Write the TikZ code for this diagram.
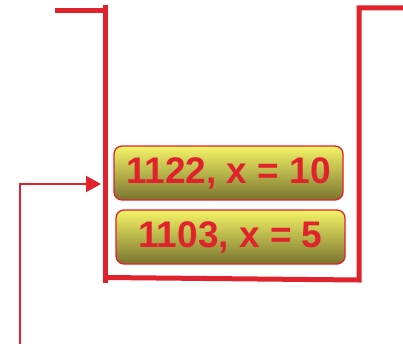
\documentclass[tikz,border=0pt]{standalone}
\usepackage{fontspec}
\setmainfont{Liberation Sans}
\usetikzlibrary{arrows.meta}
\definecolor{cred}{HTML}{E0222C}
\definecolor{ytop}{HTML}{F4F466}
\definecolor{ybot}{HTML}{7A7430}
\tikzset{
  wall/.style={draw=cred, line width=5pt},
  valbox/.style={draw=cred, line width=1.3pt, rounded corners=8pt,
    top color=ytop, bottom color=ybot, minimum width=229pt, minimum height=54pt,
    inner sep=0pt, text=cred, font=\fontsize{37}{37}\selectfont\bfseries},
  ptr/.style={draw=cred, line width=2pt, -{Triangle[length=15pt,width=16pt]}}
}
\begin{document}
\begin{tikzpicture}[x=1pt,y=-1pt]
\useasboundingbox (0,0) rectangle (403,344);
% container
\coordinate (tl) at (55,11);
\coordinate (tlc) at (105.5,11);
\coordinate (lt) at (105.5,5);
\coordinate (lb) at (105.5,277.5);
\coordinate (rb) at (359,280);
\coordinate (rt) at (359,8);
\coordinate (tr) at (403,8);
\draw[wall] (tl) -- (tlc);
\draw[wall] (lt) -- (105.5,283);
\draw[wall] (lb) -- (rb) -- (rt) -- (tr);
% values
\node[valbox] (v1) at (228.5,173) {1122, x = 10};
\node[valbox] (v2) at (230.5,237) {1103, x = 5};
% pointer
\coordinate (p0) at (20,344);
\coordinate (p1) at (20,184);
\coordinate (p2) at (101,184);
\draw[ptr] (p0) -- (p1) -- (p2);
\end{tikzpicture}
\end{document}
